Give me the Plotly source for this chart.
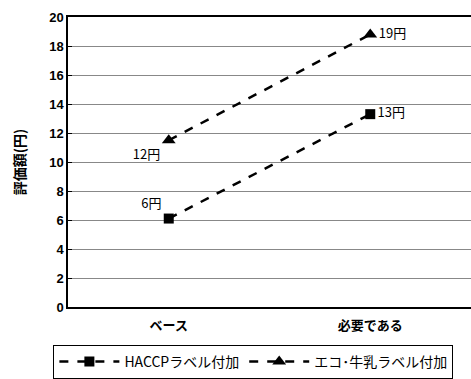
import plotly.graph_objects as go

categories = ["ベース", "必要である"]
haccp_values = [6.1, 13.3]
eco_values = [11.5, 18.8]
haccp_labels = ["6円", "13円"]
eco_labels = ["12円", "19円"]
y_ticks = list(range(0, 21, 2))

font_main = "Liberation Sans, Arial, Noto Sans CJK JP, sans-serif"
font_jp = "Noto Sans CJK JP, sans-serif"

fig = go.Figure()
fig.add_trace(go.Scatter(
    x=categories, y=haccp_values, name="HACCPラベル付加",
    mode="lines+markers+text",
    line=dict(color="black", width=2.5, dash="dash"),
    marker=dict(symbol="square", size=10, color="black"),
    text=haccp_labels, textposition=["top left", "middle right"],
    textfont=dict(family=font_jp, size=13, color="black"),
))
fig.add_trace(go.Scatter(
    x=categories, y=eco_values, name="エコ･牛乳ラベル付加",
    mode="lines+markers+text",
    line=dict(color="black", width=2.5, dash="dash"),
    marker=dict(symbol="triangle-up", size=12, color="black"),
    text=eco_labels, textposition=["bottom left", "middle right"],
    textfont=dict(family=font_jp, size=13, color="black"),
))

fig.update_layout(
    width=471, height=379,
    margin=dict(l=68, r=0, t=17, b=71),
    paper_bgcolor="white", plot_bgcolor="white",
    font=dict(family=font_main, size=13, color="black"),
    showlegend=True,
    legend=dict(
        orientation="h", x=0.46, xanchor="center", y=-0.13, yanchor="top",
        bordercolor="black", borderwidth=1,
        font=dict(family=font_jp, size=14, color="black"),
        itemwidth=60, tracegroupgap=0,
    ),
    xaxis=dict(
        range=[-0.5, 1.5],
        showline=True, linecolor="black", linewidth=1.5, mirror=True,
        showgrid=False, ticks="", zeroline=False,
        ticklabelstandoff=6,
        tickfont=dict(family=font_jp, size=13, color="black", weight="bold"),
    ),
    yaxis=dict(
        range=[0, 20], tickvals=y_ticks,
        showline=True, linecolor="black", linewidth=1.5,
        showgrid=True, gridcolor="#888888", gridwidth=1,
        ticks="inside", ticklen=4, tickcolor="black",
        zeroline=False,
        tickfont=dict(family=font_main, size=13, color="black", weight="bold"),
        title=dict(text="評価額(円)", font=dict(family=font_jp, size=14, color="#000000", weight="bold"), standoff=20),
    ),
)

fig.write_html("out.html")
